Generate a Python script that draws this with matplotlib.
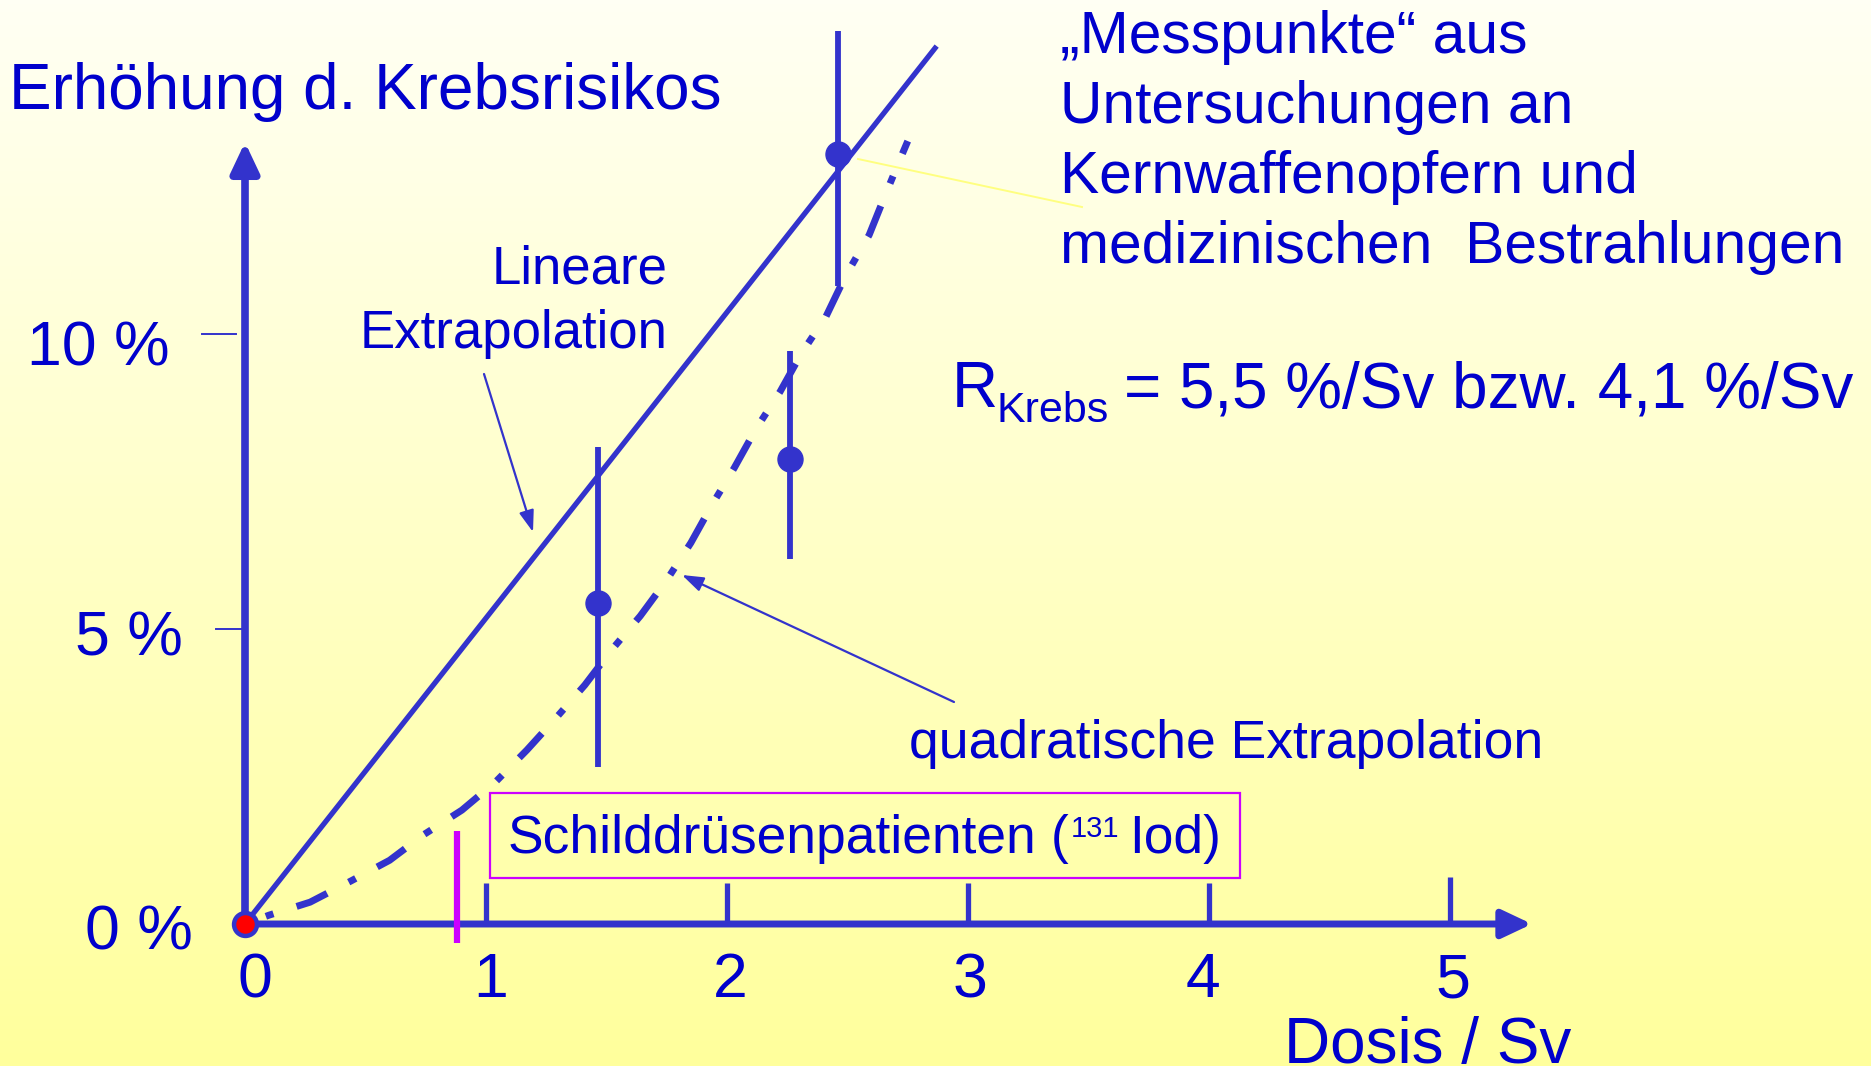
"""Slide chart: Erhöhung des Krebsrisikos vs. Dosis (lineare / quadratische Extrapolation)."""

import numpy as np
import matplotlib.pyplot as plt
from matplotlib.patches import Rectangle
from matplotlib.lines import Line2D

plt.rcParams["font.family"] = ["Liberation Sans", "DejaVu Sans"]

W, H = 1871, 1066

# pixel calibration of the slide's hand-made axes
X0_PX, Y0_PX = 245, 924
PX_PER_SV, PX_PER_PCT = 241, 59

LINE_BLUE = "#3333CC"
TEXT_BLUE = "#0000CC"
MAGENTA = "#CC00FF"

# --- data ---
DOSE_TICKS = [1, 2, 3, 4, 5]
DOSE_TICK_LABELS = ["0", "1", "2", "3", "4", "5"]
RISK_TICKS = [5, 10]
RISK_TICK_LABELS = ["0 %", "5 %", "10 %"]

MEAS_DOSE = [1.465, 2.26, 2.46]
MEAS_RISK = [5.44, 7.88, 13.05]
MEAS_LOW = [2.66, 6.19, 10.81]
MEAS_HIGH = [8.08, 9.71, 15.14]

LIN_DOSE = [0.0, 2.87]
LIN_RISK = [0.0, 14.88]

QUAD_DOSE = [0.00, 0.10, 0.27, 0.44, 0.60, 0.74, 0.90, 1.04, 1.17, 1.29, 1.41, 1.52, 1.64,
             1.75, 1.85, 1.94, 2.03, 2.12, 2.22, 2.31, 2.41, 2.49, 2.59, 2.65, 2.72, 2.75]
QUAD_RISK = [0.00, 0.15, 0.37, 0.73, 1.08, 1.51, 1.93, 2.41, 2.95, 3.49, 4.05, 4.64, 5.22,
             5.83, 6.46, 7.12, 7.73, 8.39, 9.02, 9.68, 10.29, 10.97, 11.68, 12.29, 12.98, 13.27]

THYROID_DOSE = 0.88
THYROID_SPAN = [-0.32, 1.58]


def ftext(x, y, s, **kw):
    """Text placed in slide pixel coordinates (origin top-left)."""
    kw.setdefault("color", TEXT_BLUE)
    kw.setdefault("va", "baseline")
    return fig.text(x / W, 1 - y / H, s, **kw)


fig = plt.figure(figsize=(W / 100, H / 100), dpi=100)
ax = fig.add_axes([0, 0, 1, 1])
xlim = (-X0_PX / PX_PER_SV, (W - X0_PX) / PX_PER_SV)
ylim = ((Y0_PX - H) / PX_PER_PCT, Y0_PX / PX_PER_PCT)
ax.set_xlim(xlim)
ax.set_ylim(ylim)
ax.axis("off")

# background: pale yellow gradient, lighter at the top
top = np.array([255, 255, 244]) / 255
bottom = np.array([255, 255, 156]) / 255
t = np.linspace(0, 1, 256)[:, None]
grad = (top * (1 - t) + bottom * t)[:, None, :]
ax.imshow(grad, extent=(*xlim, *ylim), aspect="auto", zorder=0, origin="upper")

# axes with arrow heads
arrow_kw = dict(arrowstyle="-|>,head_length=18,head_width=8.5", mutation_scale=1,
                color=LINE_BLUE, shrinkA=0, shrinkB=0)
ax.annotate("", xy=(0, 13.25), xytext=(0, 0), arrowprops=dict(lw=5.5, **arrow_kw), zorder=3)
ax.annotate("", xy=(5.34, 0), xytext=(0, 0), arrowprops=dict(lw=5.0, **arrow_kw), zorder=3)

# dose tick marks (drawn above the axis)
for d in DOSE_TICKS:
    ax.plot([d, d], [0, 0.8 if d == 5 else 0.7], color=LINE_BLUE, lw=3.8,
            solid_capstyle="butt", zorder=3)
# small risk ticks left of the axis
ax.plot([-0.178, -0.037], [RISK_TICKS[1]] * 2, color=LINE_BLUE, lw=1.4, zorder=3)
ax.plot([-0.12, 0.0], [RISK_TICKS[0]] * 2, color=LINE_BLUE, lw=1.4, zorder=3)

# tick labels
for x, lab in zip([255, 491, 730, 970, 1203, 1453], DOSE_TICK_LABELS):
    ftext(x, 997, lab, ha="center", fontsize=45)
for (x, y), lab in zip([(193, 950), (183, 655), (170, 366)], RISK_TICK_LABELS):
    ftext(x, y, lab, ha="right", fontsize=45)

# linear extrapolation
ax.plot(LIN_DOSE, LIN_RISK, color=LINE_BLUE, lw=3.8, solid_capstyle="butt", zorder=4)

# quadratic extrapolation (dash-dot)
ax.plot(QUAD_DOSE, QUAD_RISK, color=LINE_BLUE, lw=5,
        linestyle=(5.1, (4.8, 3.5, 1.15, 3.5)), dash_capstyle="butt", zorder=4)

# measured points with error bars
yerr = [np.subtract(MEAS_RISK, MEAS_LOW), np.subtract(MEAS_HIGH, MEAS_RISK)]
ax.errorbar(MEAS_DOSE, MEAS_RISK, yerr=yerr, fmt="o", ms=18, color=LINE_BLUE,
            elinewidth=4.2, capsize=0, zorder=5)

# origin point
ax.plot([0], [0], "o", ms=16.5, mfc="red", mec=LINE_BLUE, mew=3.2, zorder=6)

# thyroid patients marker
ax.plot([THYROID_DOSE] * 2, THYROID_SPAN, color=MAGENTA, lw=4.5,
        solid_capstyle="butt", zorder=4)

# box with label
fig.patches.append(Rectangle((490 / W, 1 - 878 / H), 750 / W, 85 / H,
                             transform=fig.transFigure, fill=False, ec=MAGENTA, lw=1.6))
ftext(508, 853, "Schilddrüsenpatienten", fontsize=38.4)
ftext(1051, 853, "(", fontsize=38.4)
ftext(1071, 837, "131", fontsize=21)
ftext(1129, 853, "Iod)", fontsize=38.4)

# texts
ftext(9, 109, "Erhöhung d. Krebsrisikos", fontsize=46)
for i, line in enumerate(["„Messpunkte“ aus", "Untersuchungen an",
                          "Kernwaffenopfern und", "medizinischen  Bestrahlungen"]):
    ftext(1060, 53 + 70 * i, line, fontsize=42.3)

ftext(952, 407, "R", fontsize=46)
ftext(997, 422, "Krebs", fontsize=31)
ftext(1124, 407, "= 5,5 %/Sv bzw. 4,1 %/Sv", fontsize=46)

ftext(668, 284, "Lineare", ha="right", fontsize=38)
ftext(668, 348, "Extrapolation", ha="right", fontsize=38)
ftext(909, 758, "quadratische Extrapolation", fontsize=38.5)
ftext(1284, 1063, "Dosis / Sv", fontsize=46)

# pointer arrows
ptr_kw = dict(arrowstyle="-|>,head_length=13,head_width=4.5", mutation_scale=1,
              color=LINE_BLUE, lw=1.6, shrinkA=0, shrinkB=0)
ax.annotate("", xy=(533, H - 532), xycoords="figure pixels",
            xytext=(484, H - 374), textcoords="figure pixels", arrowprops=ptr_kw)
ax.annotate("", xy=(682, H - 575), xycoords="figure pixels",
            xytext=(954, H - 702), textcoords="figure pixels", arrowprops=ptr_kw)

# pale yellow leader line to the measured points
fig.lines.append(Line2D([858 / W, 1082 / W], [1 - 159 / H, 1 - 207 / H],
                        transform=fig.transFigure, color="#FFFF80", lw=1.4))

fig.savefig("out.png", dpi=100)
